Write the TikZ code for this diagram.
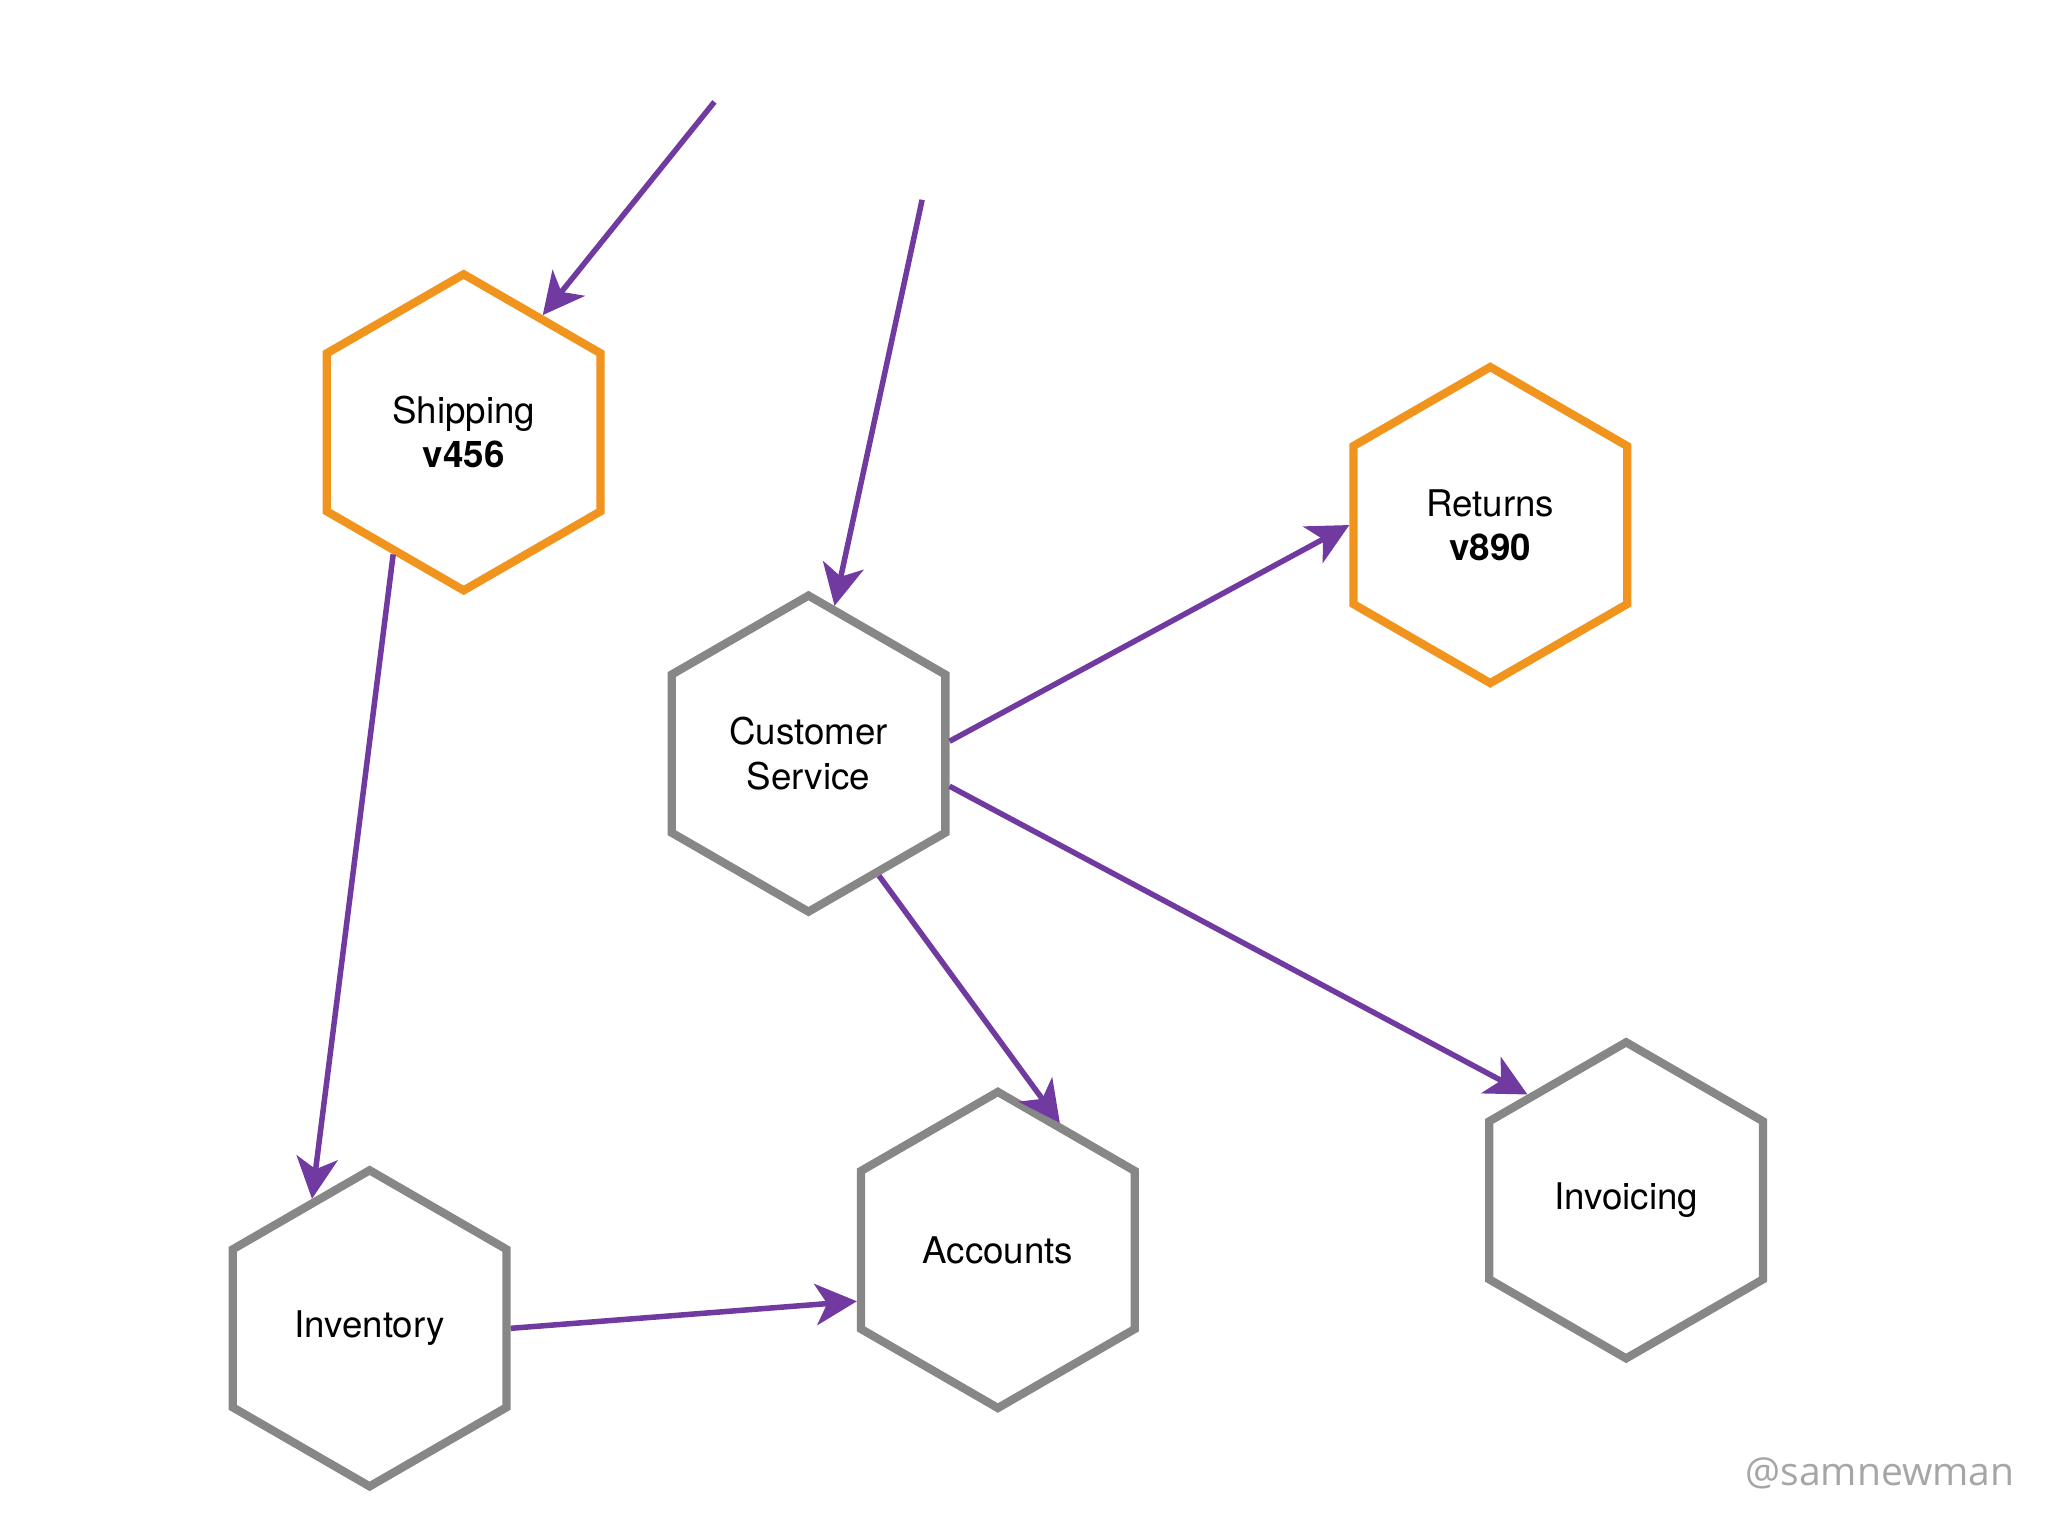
\documentclass[tikz,border=0pt]{standalone}
\usepackage{fontspec}
\setmainfont{TeX Gyre Heros}
\newfontfamily\creditfont{Open Sans}
\usetikzlibrary{positioning}
\usetikzlibrary{arrows.meta}
\usetikzlibrary{shapes.geometric}
\definecolor{flowpurple}{RGB}{112,58,160}
\definecolor{hexorange}{RGB}{240,148,30}
\definecolor{hexgray}{RGB}{135,135,135}
\tikzset{
	hex/.style={regular polygon, regular polygon sides=6, shape border rotate=30, minimum size=2.42cm, inner sep=0pt, draw=hexgray, line width=1.8pt, align=center, font=\fontsize{8}{9.6}\selectfont},
	hexnew/.style={hex, draw=hexorange},
	flow/.style={draw=flowpurple, line width=1.2pt, -{Stealth[length=9pt,width=9pt,inset=2.5pt]}},
}

\begin{document}
\begin{tikzpicture}
		\useasboundingbox (0,0) rectangle (15.68,-11.76);
		
		\node[hexnew] (shipping) at (3.55,-3.31) {Shipping\\\textbf{v456}};
		\node[hex] (custserv) at (6.19,-5.77) {Customer\\Service};
		\node[hexnew] (returns) at (11.41,-4.02) {Returns\\\textbf{v890}};
		\node[hex] (inventory) at (2.83,-10.17) {Inventory};
		\node[hex] (accounts) at (7.64,-9.57) {Accounts};
		\node[hex] (invoicing) at (12.45,-9.19) {Invoicing};
		
		\coordinate (in1) at (5.47,-0.78);
		\coordinate (in2) at (7.06,-1.53);
		
		\draw[flow] (in1) -- (shipping.56);
		\draw[flow] (in2) -- (custserv.80);
		
		\draw[flow] (shipping.240) -- (inventory.114);
		\draw[flow] (custserv.5) -- (returns.180);
		\draw[flow] (custserv.347) -- (invoicing.133);
		\draw[flow] (custserv.300) -- (accounts.64);
		\draw[flow] (inventory.0) -- (accounts.200);
		
		\node[font=\creditfont\fontsize{8.5}{10}\selectfont, text=black!35, inner sep=0pt, anchor=base east] (credit) at (15.43,-11.37) {@samnewman};
	\end{tikzpicture}
\end{document}
